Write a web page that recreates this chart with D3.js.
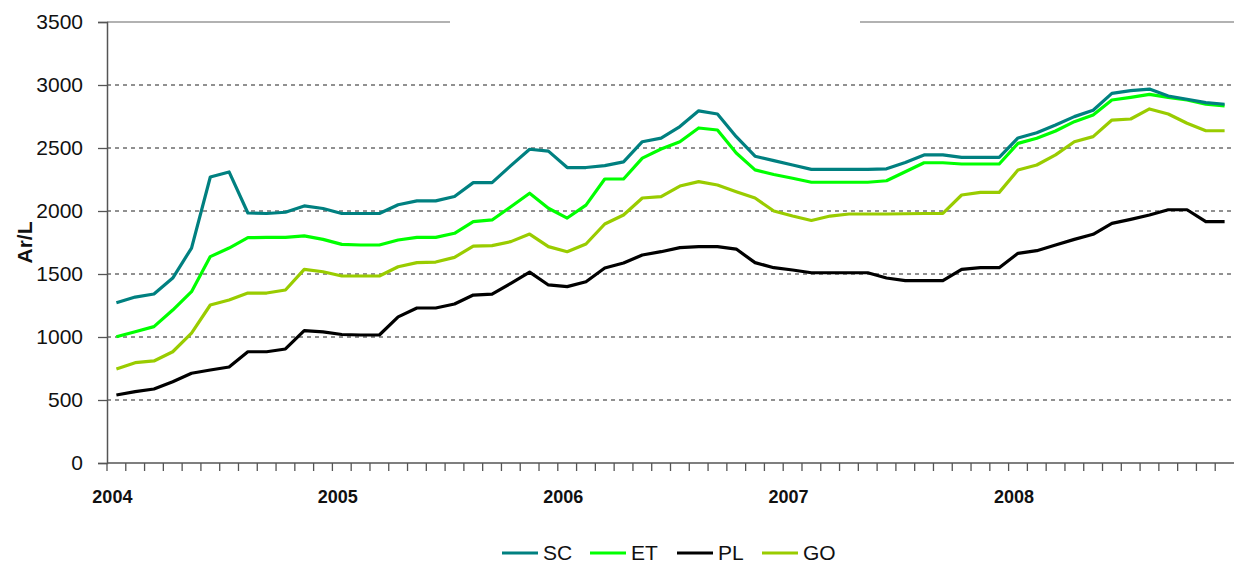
<!DOCTYPE html>
<html>
<head>
<meta charset="utf-8">
<script src="https://cdn.jsdelivr.net/npm/d3@7"></script>
<style>
  body { margin: 0; background: #fff; }
  svg { display: block; font-family: "Liberation Sans", Arial, sans-serif; }
</style>
</head>
<body>
<div id="chart"></div>
<script>
// categories: monthly, Jan 2004 .. Dec 2008
var years = ["2004", "2005", "2006", "2007", "2008"];
var months = years.flatMap(function(y) { return d3.range(1, 13).map(function(m) { return y + "-" + m; }); });

var yTicks = [0, 500, 1000, 1500, 2000, 2500, 3000, 3500];

var sc = [1272, 1317, 1341, 1468, 1706, 2270, 2310, 1984, 1980, 1990, 2040, 2020,
          1980, 1980, 1980, 2050, 2080, 2080, 2115, 2225, 2225, 2360, 2490, 2475,
          2345, 2345, 2360, 2390, 2550, 2578, 2670, 2795, 2770, 2590, 2435, 2400,
          2365, 2330, 2330, 2330, 2330, 2335, 2385, 2445, 2445, 2425, 2425, 2425,
          2580, 2621, 2683, 2749, 2800, 2934, 2955, 2968, 2913, 2887, 2860, 2847];

var et = [1002, 1042, 1082, 1214, 1360, 1638, 1706, 1788, 1790, 1790, 1802, 1775,
          1735, 1730, 1730, 1770, 1791, 1791, 1823, 1915, 1929, 2034, 2141, 2022,
          1944, 2047, 2254, 2254, 2420, 2492, 2550, 2659, 2643, 2460, 2326, 2290,
          2260, 2228, 2228, 2228, 2228, 2240, 2312, 2383, 2383, 2373, 2373, 2373,
          2537, 2577, 2635, 2709, 2762, 2881, 2902, 2926, 2902, 2881, 2847, 2834];

var pl = [540, 566, 587, 645, 712, 738, 762, 883, 883, 905, 1050, 1040,
          1020, 1016, 1016, 1160, 1230, 1230, 1262, 1333, 1341, 1426, 1515, 1413,
          1400, 1439, 1547, 1587, 1651, 1677, 1709, 1717, 1717, 1698, 1590, 1550,
          1532, 1510, 1510, 1510, 1510, 1468, 1447, 1447, 1447, 1537, 1550, 1550,
          1664, 1685, 1730, 1775, 1815, 1902, 1934, 1968, 2010, 2010, 1915, 1915];

var go = [746, 796, 810, 883, 1030, 1254, 1294, 1349, 1349, 1373, 1537, 1518,
          1484, 1484, 1484, 1558, 1590, 1595, 1632, 1722, 1725, 1757, 1817, 1717,
          1677, 1738, 1897, 1968, 2103, 2114, 2198, 2233, 2206, 2153, 2103, 2000,
          1960, 1925, 1960, 1976, 1976, 1976, 1978, 1980, 1981, 2127, 2148, 2148,
          2326, 2365, 2445, 2550, 2590, 2722, 2730, 2810, 2770, 2696, 2637, 2637];

var seriesNames = ["SC", "ET", "PL", "GO"];
var seriesColors = ["#008080", "#00ff00", "#000000", "#99cc00"];
var seriesValues = [sc, et, pl, go];
// drawing order (back to front)
var drawOrder = [3, 2, 1, 0];

var width = 1234, height = 565;
var plotLeft = 107, plotRight = 1234, plotTop = 22, plotBottom = 463;

var svg = d3.select("#chart").append("svg")
    .attr("width", width)
    .attr("height", height);

var x = d3.scaleBand().domain(months).range([plotLeft, plotRight]).padding(0);
var y = d3.scaleLinear().domain([0, 3500]).range([plotBottom, plotTop]);

// gridlines
svg.append("g").selectAll("line")
    .data(yTicks.filter(function(t) { return t > 0 && t < 3500; }))
    .enter().append("line")
    .attr("x1", plotLeft).attr("x2", plotRight)
    .attr("y1", function(d) { return y(d); })
    .attr("y2", function(d) { return y(d); })
    .attr("stroke", "#222")
    .attr("stroke-width", 1)
    .attr("stroke-dasharray", "4,4");

// top border, broken where the title box sat
var topSegs = [[plotLeft, 450], [860, plotRight]];
svg.append("g").selectAll("line")
    .data(topSegs).enter().append("line")
    .attr("x1", function(d) { return d[0]; })
    .attr("x2", function(d) { return d[1]; })
    .attr("y1", y(3500)).attr("y2", y(3500))
    .attr("stroke", "#999")
    .attr("stroke-width", 1.3);

// y axis
var yAxis = d3.axisLeft(y).tickValues(yTicks).tickSize(9).tickPadding(15).tickFormat(d3.format("d"));
var gy = svg.append("g").attr("transform", "translate(" + plotLeft + ",0)").call(yAxis);
gy.select(".domain").attr("stroke", "#555").attr("stroke-width", 1.5);
gy.selectAll(".tick line").attr("stroke", "#555").attr("stroke-width", 1.3);
gy.selectAll("text").attr("font-size", 21).attr("fill", "#111")
    .attr("font-family", "Liberation Sans, Arial, sans-serif");

// x axis: ticks at month boundaries
var gx = svg.append("g").attr("transform", "translate(0," + plotBottom + ")");
gx.append("line").attr("x1", plotLeft).attr("x2", plotRight)
    .attr("stroke", "#555").attr("stroke-width", 1.5);
gx.selectAll("line.tk")
    .data(months).enter().append("line")
    .attr("class", "tk")
    .attr("x1", function(d) { return x(d); })
    .attr("x2", function(d) { return x(d); })
    .attr("y1", 0).attr("y2", 8)
    .attr("stroke", "#555").attr("stroke-width", 1.3);
gx.selectAll("text")
    .data(years).enter().append("text")
    .attr("x", function(d) { return x(d + "-1") + x.bandwidth() / 2 - 4; })
    .attr("y", 40)
    .attr("text-anchor", "middle")
    .attr("font-size", 18)
    .attr("font-weight", "bold")
    .attr("fill", "#111")
    .text(function(d) { return d; });

// y title
svg.append("text")
    .attr("transform", "translate(32," + ((plotTop + plotBottom) / 2) + ") rotate(-90)")
    .attr("text-anchor", "middle")
    .attr("font-size", 21)
    .attr("font-weight", "bold")
    .attr("fill", "#111")
    .text("Ar/L");

// lines
var line = d3.line()
    .x(function(d, i) { return x(months[i]) + x.bandwidth() / 2; })
    .y(function(d) { return y(d); });

drawOrder.forEach(function(k) {
  svg.append("path")
    .datum(seriesValues[k])
    .attr("d", line)
    .attr("fill", "none")
    .attr("stroke", seriesColors[k])
    .attr("stroke-width", 3.2)
    .attr("stroke-linejoin", "round");
});

// legend
var legendX = [502, 590, 677, 762];
var legend = svg.append("g").attr("transform", "translate(0,553)");
seriesNames.forEach(function(name, k) {
  legend.append("line")
    .attr("x1", legendX[k]).attr("x2", legendX[k] + 36)
    .attr("y1", 0).attr("y2", 0)
    .attr("stroke", seriesColors[k])
    .attr("stroke-width", 3.2);
  legend.append("text")
    .attr("x", legendX[k] + 41)
    .attr("y", 7)
    .attr("font-size", 21)
    .attr("fill", "#111")
    .text(name);
});
</script>
</body>
</html>
